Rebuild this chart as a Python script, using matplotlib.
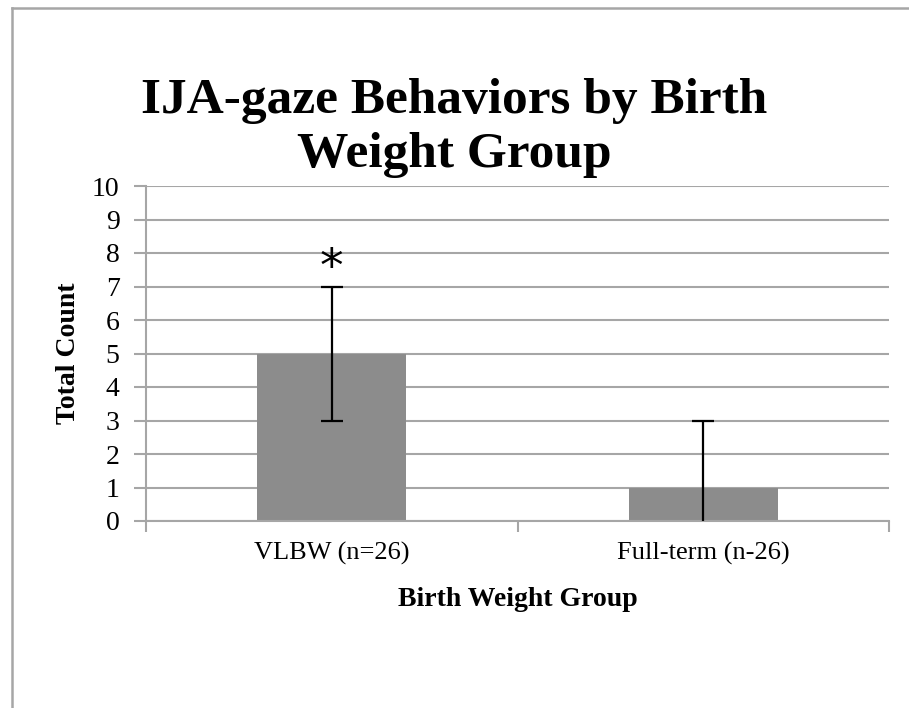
import numpy as np
import matplotlib.pyplot as plt
from matplotlib.lines import Line2D

# data
groups = ['VLBW (n=26)', 'Full-term (n-26)']
counts = [5, 1]
err_low = [2, 2]   # full-term whisker runs below 0 and gets clipped
err_high = [2, 2]
star_y = 7.55
y_ticks = list(range(0, 11))

plt.rcParams['font.family'] = ['Liberation Serif', 'DejaVu Serif']

fig = plt.figure(figsize=(9.09, 7.08), dpi=100)
ax = fig.add_axes([146 / 909, 1 - 521 / 708, 743 / 909, 335 / 708])

x = np.arange(len(groups))
ax.bar(x, counts, width=0.4, color='#8c8c8c', zorder=2)
ax.errorbar(x, counts, yerr=[err_low, err_high], fmt='none', ecolor='black',
            elinewidth=1.6, capsize=8, capthick=1.6, zorder=3, clip_on=True)
ax.text(x[0], star_y, '*', ha='center', va='center', fontsize=34,
        family='DejaVu Sans', zorder=4)

ax.set_xlim(-0.5, 1.5)
ax.set_ylim(0, 10)
ax.set_yticks(y_ticks)
ax.yaxis.grid(True, color='#a6a6a6', linewidth=1.5, zorder=0)
ax.set_axisbelow(True)

ax.set_xticks(x)
ax.set_xticklabels(groups, fontsize=19)
ax.tick_params(axis='x', length=0, pad=15)
ax.set_xticks([-0.5, 0.5, 1.5], minor=True)
ax.tick_params(axis='x', which='minor', length=8, width=1.5, color='#a6a6a6', direction='out')
ax.tick_params(axis='y', labelsize=20, length=9, width=1.5, color='#a6a6a6', pad=10)

for side in ['top', 'right']:
    ax.spines[side].set_visible(False)
for side in ['left', 'bottom']:
    ax.spines[side].set_color('#a6a6a6')
    ax.spines[side].set_linewidth(1.5)

ax.set_ylabel('Total Count', fontsize=20, fontweight='bold', labelpad=8)
ax.set_xlabel('Birth Weight Group', fontsize=20, fontweight='bold', labelpad=16)

fig.text(0.5, 1 - 128 / 708, 'IJA-gaze Behaviors by Birth\nWeight Group', ha='center', va='center',
         fontsize=37, fontweight='bold', linespacing=1.25)

# border of the chart frame
fig.add_artist(Line2D([12 / 909, 1], [1 - 7.5 / 708, 1 - 7.5 / 708], color='#a6a6a6', linewidth=1.8))
fig.add_artist(Line2D([12 / 909, 12 / 909], [0, 1 - 7.5 / 708], color='#a6a6a6', linewidth=1.8))

fig.savefig('out.png', dpi=100)
